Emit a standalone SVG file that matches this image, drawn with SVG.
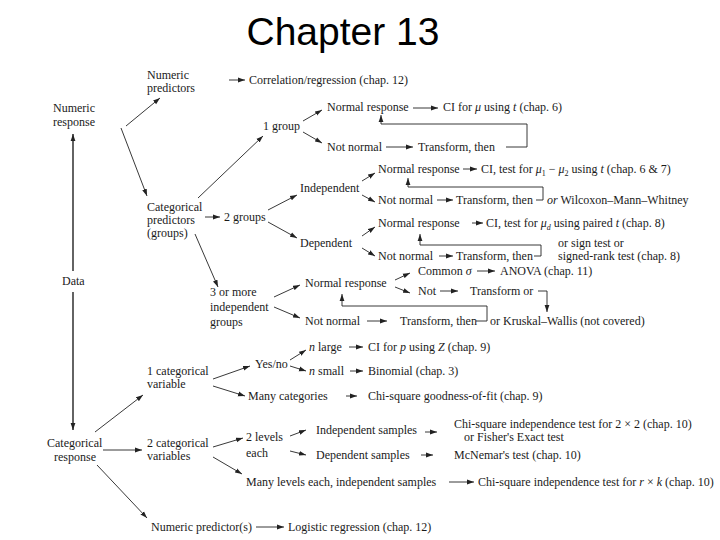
<svg xmlns="http://www.w3.org/2000/svg" width="720" height="540" viewBox="0 0 720 540">
<defs>
<marker id="ah" markerUnits="userSpaceOnUse" markerWidth="8" markerHeight="6" refX="7" refY="3" orient="auto"><path d="M0,0.6 L7,3 L0,5.4 z" fill="#222"/></marker>
<style>
.t{font-family:"Liberation Serif","Times New Roman",serif;font-size:12px;fill:#1a1a1a}
.i{font-style:italic}
.c{stroke:#222;stroke-width:0.9;fill:none;marker-end:url(#ah)}
.l{stroke:#222;stroke-width:0.9;fill:none}
.title{font-family:"Liberation Sans",Arial,sans-serif;font-size:39px;fill:#000}
</style>
</defs>
<rect width="720" height="540" fill="#fff"/>
<text class="title" x="343" y="45" text-anchor="middle">Chapter 13</text>

<g id="connectors">
<path class="c" d="M229,80 H245"/>
<path class="c" d="M126,126 L160,98"/>
<path class="c" d="M121,128 L147,196"/>
<path class="c" d="M198,198 L263,136"/>
<path class="c" d="M303,121 L322,110"/>
<path class="c" d="M303,132 L322,143"/>
<path class="c" d="M413,108 H438"/>
<path class="c" d="M386,147 H413"/>
<path class="c" d="M506,147 H527 V124 H381 V115"/>
<path class="c" d="M205,217 H220"/>
<path class="c" d="M268,210 L297,195"/>
<path class="c" d="M268,222 L297,238"/>
<path class="c" d="M362,181 L375,173"/>
<path class="c" d="M362,195 L375,202"/>
<path class="c" d="M463,169 H477"/>
<path class="c" d="M437,200 H453"/>
<path class="c" d="M536,200 H543 V187 H408 V178"/>
<path class="c" d="M362,236 L375,227"/>
<path class="c" d="M362,248 L375,256"/>
<path class="c" d="M472,223 H483"/>
<path class="c" d="M439,256 H453"/>
<path class="c" d="M534,256 H541 V245 H420 V234"/>
<path class="c" d="M195,234 L218,287"/>
<path class="c" d="M274,297 L300,285"/>
<path class="c" d="M274,307 L300,318"/>
<path class="c" d="M395,280 L410,273"/>
<path class="c" d="M395,287 L410,293"/>
<path class="c" d="M477,271 H495"/>
<path class="c" d="M440,291 H458"/>
<path class="c" d="M538,291 H547 V312"/>
<path class="c" d="M367,321 H387"/>
<path class="c" d="M476,321 H487 V306 H342 V294"/>
<path class="c" d="M73,271 V134" style="stroke-width:1.4"/>
<path class="c" d="M73,292 V430" style="stroke-width:1.4"/>
<path class="c" d="M95,432 L143,395"/>
<path class="c" d="M213,379 L250,366"/>
<path class="c" d="M290,360 L306,350"/>
<path class="c" d="M290,366 L306,371"/>
<path class="c" d="M349,347 H363"/>
<path class="c" d="M350,371 H363"/>
<path class="c" d="M213,386 L245,396"/>
<path class="c" d="M346,396 H357"/>
<path class="c" d="M103,450 H142"/>
<path class="c" d="M213,447 L243,438"/>
<path class="c" d="M213,457 L242,474"/>
<path class="c" d="M290,436 L306,430"/>
<path class="c" d="M290,451 L306,455"/>
<path class="c" d="M425,432 H437"/>
<path class="c" d="M421,455 H433"/>
<path class="c" d="M449,482 H474"/>
<path class="c" d="M97,465 L147,518"/>
<path class="c" d="M256,527 H284"/>
</g>

<g id="data"><text class="t" x="62" y="285">Data</text></g>
<g id="numeric-response"><text class="t" x="53" y="112">Numeric</text><text class="t" x="53" y="126">response</text></g>
<g id="numeric-predictors"><text class="t" x="147" y="79">Numeric</text><text class="t" x="147" y="92">predictors</text></g>
<g id="correlation"><text class="t" x="249" y="84">Correlation/regression (chap. 12)</text></g>
<g id="categorical-predictors"><text class="t" x="147" y="211">Categorical</text><text class="t" x="147" y="224">predictors</text><text class="t" x="147" y="237">(groups)</text></g>
<g id="one-group"><text class="t" x="263" y="130">1 group</text></g>
<g id="g1-normal"><text class="t" x="327" y="111">Normal response</text></g>
<g id="g1-ci"><text class="t" x="443" y="111">CI for <tspan class="i">μ</tspan> using <tspan class="i">t</tspan> (chap. 6)</text></g>
<g id="g1-notnormal"><text class="t" x="327" y="151">Not normal</text></g>
<g id="g1-transform"><text class="t" x="418" y="151">Transform, then</text></g>
<g id="two-groups"><text class="t" x="224" y="221">2 groups</text></g>
<g id="independent"><text class="t" x="300" y="192">Independent</text></g>
<g id="dependent"><text class="t" x="300" y="247">Dependent</text></g>
<g id="ind-normal"><text class="t" x="378" y="173">Normal response</text></g>
<g id="ind-ci"><text class="t" x="481" y="173">CI, test for <tspan class="i">μ</tspan><tspan font-size="8" dy="3">1</tspan><tspan dy="-3"> − </tspan><tspan class="i">μ</tspan><tspan font-size="8" dy="3">2</tspan><tspan dy="-3"> using </tspan><tspan class="i">t</tspan> (chap. 6 &amp; 7)</text></g>
<g id="ind-notnormal"><text class="t" x="378" y="204">Not normal</text></g>
<g id="ind-transform"><text class="t" x="456" y="204">Transform, then</text></g>
<g id="ind-wilcoxon"><text class="t" x="547" y="204"><tspan class="i">or</tspan>  Wilcoxon–Mann–Whitney</text></g>
<g id="dep-normal"><text class="t" x="378" y="227">Normal response</text></g>
<g id="dep-ci"><text class="t" x="486" y="227">CI, test for <tspan class="i">μ</tspan><tspan font-size="8" dy="3" class="i">d</tspan><tspan dy="-3"> using paired </tspan><tspan class="i">t</tspan> (chap. 8)</text></g>
<g id="dep-notnormal"><text class="t" x="378" y="260">Not normal</text></g>
<g id="dep-transform"><text class="t" x="456" y="260">Transform, then</text></g>
<g id="dep-sign"><text class="t" x="558" y="247">or  sign test or</text><text class="t" x="558" y="260">signed-rank test (chap. 8)</text></g>
<g id="three-groups"><text class="t" x="210" y="296">3 or more</text><text class="t" x="210" y="311">independent</text><text class="t" x="210" y="326">groups</text></g>
<g id="g3-normal"><text class="t" x="305" y="287">Normal response</text></g>
<g id="common-sigma"><text class="t" x="418" y="275">Common <tspan class="i">σ</tspan></text></g>
<g id="anova"><text class="t" x="500" y="275">ANOVA (chap. 11)</text></g>
<g id="not"><text class="t" x="418" y="295">Not</text></g>
<g id="transform-or"><text class="t" x="470" y="295">Transform or</text></g>
<g id="g3-notnormal"><text class="t" x="305" y="325">Not normal</text></g>
<g id="g3-transform"><text class="t" x="400" y="325">Transform, then</text></g>
<g id="kruskal"><text class="t" x="490" y="325">or Kruskal–Wallis (not covered)</text></g>
<g id="categorical-response"><text class="t" x="47" y="447">Categorical</text><text class="t" x="54" y="461">response</text></g>
<g id="one-cat"><text class="t" x="147" y="375">1 categorical</text><text class="t" x="147" y="388">variable</text></g>
<g id="yesno"><text class="t" x="255" y="368">Yes/no</text></g>
<g id="n-large"><text class="t" x="309" y="351"><tspan class="i">n</tspan> large</text></g>
<g id="ci-p"><text class="t" x="368" y="351">CI for <tspan class="i">p</tspan> using <tspan class="i">Z</tspan> (chap. 9)</text></g>
<g id="n-small"><text class="t" x="309" y="375"><tspan class="i">n</tspan> small</text></g>
<g id="binomial"><text class="t" x="368" y="375">Binomial (chap. 3)</text></g>
<g id="many-cat"><text class="t" x="248" y="400">Many categories</text></g>
<g id="gof"><text class="t" x="368" y="400">Chi-square goodness-of-fit (chap. 9)</text></g>
<g id="two-cat"><text class="t" x="147" y="447">2 categorical</text><text class="t" x="147" y="460">variables</text></g>
<g id="two-levels"><text class="t" x="246" y="441">2 levels</text><text class="t" x="246" y="457">each</text></g>
<g id="ind-samples"><text class="t" x="316" y="434">Independent samples</text></g>
<g id="chi-2x2"><text class="t" x="454" y="428">Chi-square independence test for 2 × 2 (chap. 10)</text><text class="t" x="464" y="441">or Fisher's Exact test</text></g>
<g id="dep-samples"><text class="t" x="316" y="459">Dependent samples</text></g>
<g id="mcnemar"><text class="t" x="454" y="459">McNemar's test (chap. 10)</text></g>
<g id="many-levels"><text class="t" x="246" y="486">Many levels each, independent samples</text></g>
<g id="chi-rk"><text class="t" x="478" y="486">Chi-square independence test for <tspan class="i">r</tspan> × <tspan class="i">k</tspan> (chap. 10)</text></g>
<g id="numeric-predictor"><text class="t" x="151" y="531">Numeric predictor(s)</text></g>
<g id="logistic"><text class="t" x="288" y="531">Logistic regression (chap. 12)</text></g>
</svg>
